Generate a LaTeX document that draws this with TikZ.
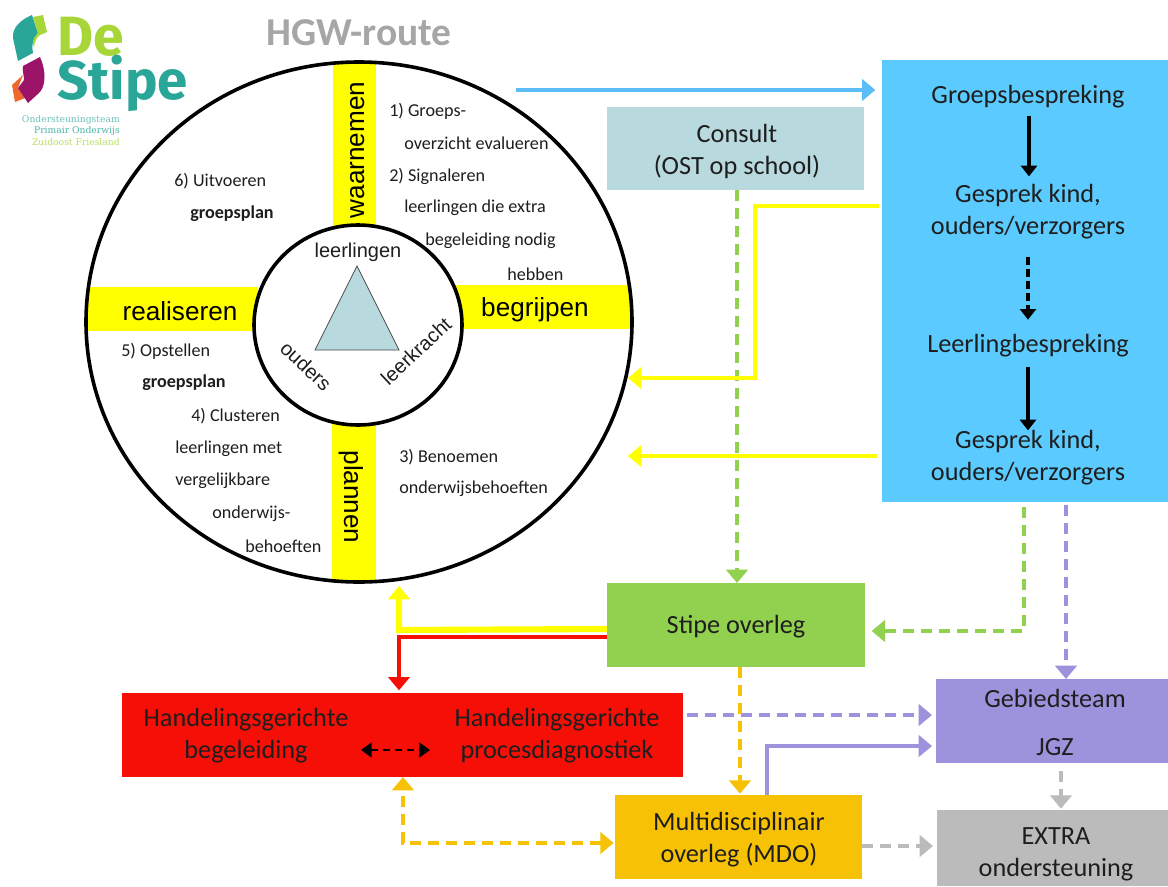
\documentclass[tikz,border=0pt]{standalone}
\usepackage{fontspec}
\setmainfont{Carlito}
\newfontfamily\arialf{Liberation Sans}
\newfontfamily\logof{Fira Sans}
\newfontfamily\slabf{DejaVu Serif}
\usetikzlibrary{arrows.meta,calc}
\definecolor{cblue}{HTML}{5BCBFF}
\definecolor{carrowblue}{HTML}{5BBDF5}
\definecolor{cconsult}{HTML}{B8D9DE}
\definecolor{cgreen}{HTML}{92D050}
\definecolor{cred}{HTML}{F50F07}
\definecolor{cpurple}{HTML}{9D93DC}
\definecolor{corange}{HTML}{F7C205}
\definecolor{cgray}{HTML}{BBBBBB}
\definecolor{cyel}{HTML}{FFFF00}
\definecolor{ctext}{HTML}{1E1E1E}
\definecolor{cteal}{HTML}{2AA698}
\definecolor{clime}{HTML}{A6D637}
\definecolor{cplum}{HTML}{9C1468}
\definecolor{corg}{HTML}{EE6A2C}
\tikzset{
  x=0.75pt,y=-0.75pt,
  pbox/.style n args={3}{fill=#3,draw=none,inner sep=0pt,outer sep=0pt,minimum width=#1*0.75pt,minimum height=#2*0.75pt},
  bartext/.style={font=\arialf\fontsize{19.6}{24}\selectfont,text=black,inner sep=0pt},
  tritext/.style={font=\arialf\fontsize{15}{18}\selectfont,text=ctext,inner sep=0pt},
  step text/.style={font=\fontsize{13.6}{16}\selectfont,text=ctext,inner sep=0pt,anchor=west},
  bigtip/.style={-{Triangle[length=10pt,width=16pt]}},
  conn/.style={line width=2.6pt,bigtip},
  dconn/.style={conn,dash pattern=on 8.5pt off 5pt},
  blackconn/.style={line width=2.4pt,black,-{Triangle[length=8pt,width=12pt]}},
  flabel/.style={inner sep=0pt,align=center,font=\fontsize{19.7}{24}\selectfont,text=ctext},
}
\begin{document}
\begin{tikzpicture}
\useasboundingbox (0,0) rectangle (1168,886);
\fill[white] (0,0) rectangle (1168,886);
% logo
\fill[cteal] (32,15) .. controls (20,20) and (12,28) .. (13,38) -- (18,61) -- (33,53) .. controls (31,46) and (33,38) .. (38,33) -- cycle;
\fill[clime] (33,17) -- (43,15) -- (47,32) -- (40,35) .. controls (36,38) and (34,43) .. (34,48) .. controls (32,42) and (33,38) .. (38,33) -- cycle;
\fill[corg] (23,75) -- (12,85) -- (15,102) -- (25,98) -- (18,88) -- cycle;
\fill[cplum] (40,57) .. controls (46,70) and (46,85) .. (40,92) -- (28,103) -- (18,88) -- (24,80) .. controls (24,75) and (22,70) .. (23,66) -- cycle;
\node[inner sep=0pt,anchor=base west,text=clime,font=\logof\bfseries\fontsize{41.5}{44}\selectfont] (logode) at (57,55) {De};
\node[inner sep=0pt,anchor=base west,text=cteal,font=\logof\bfseries\fontsize{41}{41}\selectfont] (logostipe) at (57,99) {Stipe};
\node[inner sep=0pt,anchor=base east,text=cteal!70,font=\slabf\fontsize{6.9}{7}\selectfont] (l1) at (120,122) {Ondersteuningsteam};
\node[inner sep=0pt,anchor=base east,text=cteal!85,font=\slabf\fontsize{6.9}{7}\selectfont] (l2) at (120,133) {Primair Onderwijs};
\node[inner sep=0pt,anchor=base east,text=clime!80,font=\slabf\fontsize{6.9}{7}\selectfont] (l3) at (120,145) {Zuidoost Friesland};
\node[inner sep=0pt,text=gray!70,font=\bfseries\fontsize{29.6}{32}\selectfont] (title) at (359,33) {HGW-route};
% wheel
\fill[cyel] (333,62) rectangle (376,228);
\fill[cyel] (332,423) rectangle (376,582);
\fill[cyel] (87,287) rectangle (258,331);
\fill[cyel] (452,285) rectangle (630,329);
\draw[line width=2.7pt] (359,322) ellipse [x radius=273,y radius=260];
\draw[line width=2.7pt,fill=white] (358,325) ellipse [x radius=104,y radius=100];
\fill[cconsult,draw=black!70,line width=0.6pt] (357,266) -- (315,350) -- (399,350) -- cycle;
\node[bartext,rotate=90] (waar) at (358,150) {waarnemen};
\node[bartext] (real) at (180,311) {realiseren};
\node[bartext] (begr) at (535,310) {begrijpen};
\node[bartext,rotate=-90] (plan) at (351,497) {plannen};
\node[tritext] (tl) at (358,252) {leerlingen};
\node[tritext,rotate=-43] (to) at (306,366) {ouders};
\node[tritext,rotate=43] (tk) at (416,351) {leerkracht};
\node[step text] (s1) at (389,111) {1) Groeps-};
\node[step text] (s2) at (404,143) {overzicht evalueren};
\node[step text] (s3) at (389,176) {2) Signaleren};
\node[step text] (s4) at (404,208) {leerlingen die extra};
\node[step text] (s5) at (425,241) {begeleiding nodig};
\node[step text] (s6) at (507,274) {hebben};
\node[step text] (s7) at (399,457) {3) Benoemen};
\node[step text] (s8) at (399,489) {onderwijsbehoeften};
\node[step text] (s9) at (174,181) {6) Uitvoeren};
\node[step text,font=\bfseries\fontsize{13.6}{16}\selectfont] (s10) at (190,214) {groepsplan};
\node[step text] (s11) at (121,351) {5) Opstellen};
\node[step text,font=\bfseries\fontsize{13.6}{16}\selectfont] (s12) at (142,383) {groepsplan};
\node[step text] (s13) at (191,416) {4) Clusteren};
\node[step text] (s14) at (175,449) {leerlingen met};
\node[step text] (s15) at (175,481) {vergelijkbare};
\node[step text] (s16) at (212,514) {onderwijs-};
\node[step text] (s17) at (245,546) {behoeften};
% boxes
\node[pbox={286}{442}{cblue}] (blue) at (1025,281) {};
\node[pbox={257}{83}{cconsult}] (consult) at (735.5,148.5) {};
\node[pbox={258}{84}{cgreen}] (stipe) at (736,625) {};
\node[pbox={561}{84}{cred}] (red) at (402.5,735) {};
\node[pbox={232}{84}{cpurple}] (gebied) at (1052,721) {};
\node[pbox={247}{84}{corange}] (mdo) at (738.5,837) {};
\node[pbox={231}{76}{cgray}] (extra) at (1052.5,848) {};
% labels in boxes
\node[flabel] (c1) at (737,151) {Consult\\(OST op school)};
\node[flabel] (st1) at (736,627) {Stipe overleg};
\node[flabel] (m1) at (739,840) {Multidisciplinair\\overleg (MDO)};
\node[flabel] (e1) at (1056,854) {EXTRA\\ondersteuning};
\node[flabel] (b1) at (1028,97) {Groepsbespreking};
\node[flabel] (b2) at (1028,212) {Gesprek kind,\\ouders/verzorgers};
\node[flabel] (b3) at (1028,346) {Leerlingbespreking};
\node[flabel] (b4) at (1028,458) {Gesprek kind,\\ouders/verzorgers};
\node[flabel] (r1) at (246,736) {Handelingsgerichte\\begeleiding};
\node[flabel] (r2) at (557,736) {Handelingsgerichte\\procesdiagnostiek};
\node[flabel] (g1) at (1055,698) {Gebiedsteam};
\node[flabel] (g2) at (1055,747) {JGZ};
% free-end coordinates
\coordinate (wheelTR) at (516,90);
\coordinate (wheelR1) at (628,378);
\coordinate (wheelR2) at (628,456);
\coordinate (wheelB) at (399,586);
\coordinate (wheelBend) at (399,630);
\coordinate (redBend) at (399,637);
% connectors
\draw[conn,carrowblue,shorten >=5pt] (wheelTR) -- (blue.west |- wheelTR);
\draw[dconn,cgreen] (consult.south -| 737,0) -- (stipe.north -| 737,0);
\draw[line width=3pt,cyel,bigtip] ([xshift=-2pt]blue.west |- 0,206) -- (755,206) -- (755,378) -- (wheelR1);
\draw[line width=3pt,cyel,bigtip] ([xshift=-4pt]blue.west |- wheelR2) -- (wheelR2);
\draw[blackconn,shorten >=6pt] (b1.south -| 1029,0) ++(0,7) -- (b2.north -| 1029,0);
\draw[blackconn,dash pattern=on 6pt off 3pt,shorten >=11pt] (b2.south -| 1028,0) ++(0,17) -- (b3.north -| 1028,0);
\draw[blackconn] (b3.south -| 1028,0) ++(0,9) -- (b4.north -| 1028,0);
\draw[dconn,cgreen,shorten >=5pt] (blue.south -| 1024,0) ++(0,5) -- (1024,631) -- (stipe.east |- 0,631);
\draw[dconn,cpurple] (blue.south -| 1066,0) ++(0,3) -- (gebied.north -| 1066,0);
\draw[line width=4.6pt,cyel,-{Triangle[length=10pt,width=16pt]}] (stipe.west |- 0,629) -- (wheelBend) -- (wheelB);
\draw[line width=3pt,cred,-{Triangle[length=10pt,width=16pt]},shorten >=2pt] (stipe.west |- 0,637) -- (redBend) -- (red.north -| 399,0);
\draw[line width=2.2pt,black,dash pattern=on 5.5pt off 3.5pt,{Triangle[length=8pt,width=11pt]}-{Triangle[length=8pt,width=11pt]}] (361,750) -- (430,750);
\draw[dconn,cpurple,shorten >=3pt] (red.east |- 0,715) ++(4,0) -- (gebied.west |- 0,715);
\draw[dconn,corange,shorten >=1pt] (stipe.south -| 740,0) -- (mdo.north -| 740,0);
\draw[conn,cpurple,shorten >=3pt] (mdo.north -| 767,0) -- (767,746) -- (gebied.west |- 0,746);
\draw[dconn,cgray,shorten >=1pt] (gebied.south -| 1061,0) ++(0,8) -- (extra.north -| 1061,0);
\draw[dconn,cgray,shorten >=3pt] (mdo.east |- 0,846) -- (extra.west |- 0,846);
\draw[dconn,corange,{Triangle[length=10pt,width=16pt]}-{Triangle[length=10pt,width=16pt]},shorten <=1pt] (mdo.west |- 0,843) -- (403,843) -- (red.south -| 403,0);
\end{tikzpicture}
\end{document}
